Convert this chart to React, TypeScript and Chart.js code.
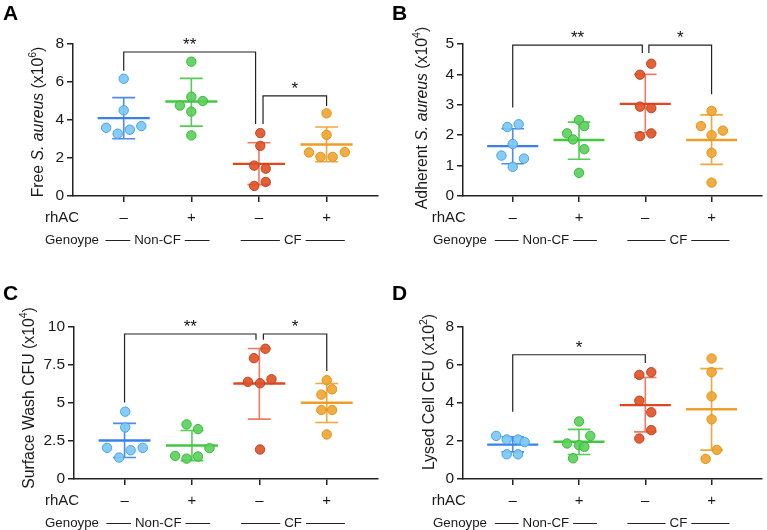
import React, { useEffect, useRef } from 'react';
import { Chart, registerables } from 'chart.js';

Chart.register(...registerables);

const FONT = '"Liberation Sans", Arial, Helvetica, sans-serif';

// ---------- shared categories ----------
const groupNames = ['Non-CF rhAC−', 'Non-CF rhAC+', 'CF rhAC−', 'CF rhAC+'];
const rhacLabels = ['–', '+', '–', '+'];
const genotypeLabels = ['Non-CF', 'CF'];

// ---------- Panel A: Free S. aureus (x10^6) ----------
const freeValues = [
  [6.17, 4.51, 3.59, 3.49, 3.68, 3.28],
  [7.07, 5.22, 4.76, 5.0, 4.44, 3.19],
  [3.31, 2.64, 1.6, 1.44, 0.74, 0.53],
  [4.35, 3.22, 2.29, 2.31, 2.06, 2.06],
];
const freeJitter = [
  [0, 0, -0.26, 0.09, 0.26, -0.09],
  [0, 0, -0.17, 0.17, 0, 0],
  [0.02, 0.02, -0.07, 0.1, 0.1, -0.07],
  [0, 0, -0.26, 0.27, -0.09, 0.09],
];
const freeMeans = [4.1, 4.97, 1.69, 2.71];
const freeUpper = [5.18, 6.19, 2.8, 3.63];
const freeLower = [3.01, 3.68, 0.6, 1.8];
const freeBrackets = [
  { from: 0, to: 1.95, y: 7.58, left: 6.59, right: 3.79, label: '**' },
  { from: 2.06, to: 3, y: 5.27, left: 3.79, right: 4.74, label: '*' },
];

// ---------- Panel B: Adherent S. aureus (x10^4) ----------
const adherentValues = [
  [2.36, 2.27, 1.71, 1.33, 1.23, 0.96],
  [2.5, 2.06, 2.3, 1.86, 1.54, 0.76],
  [4.35, 3.99, 2.94, 2.89, 1.97, 2.06],
  [2.8, 2.3, 2.15, 2.0, 1.42, 0.44],
];
const adherentJitter = [
  [0.09, -0.08, 0, -0.17, 0.17, 0],
  [0, -0.18, 0.08, -0.09, 0.08, 0],
  [0.09, -0.08, -0.08, 0.09, -0.08, 0.09],
  [0, -0.16, 0.17, 0, 0, 0],
];
const adherentMeans = [1.64, 1.84, 3.03, 1.84];
const adherentUpper = [2.21, 2.43, 4.0, 2.67];
const adherentLower = [1.06, 1.21, 2.08, 1.04];
const adherentBrackets = [
  { from: 0, to: 1.955, y: 4.96, left: 2.91, right: 4.7, label: '**' },
  { from: 2.054, to: 3, y: 4.96, left: 4.7, right: 3.35, label: '*' },
];

// ---------- Panel C: Surface Wash CFU (x10^4) ----------
const washValues = [
  [4.43, 3.39, 2.05, 1.89, 2.05, 1.41],
  [3.59, 3.28, 2.03, 1.52, 1.48, 1.34],
  [8.57, 7.95, 6.39, 6.3, 6.56, 1.94],
  [6.5, 5.55, 5.9, 4.54, 4.54, 2.93],
];
const washJitter = [
  [0.01, 0.01, -0.26, 0.09, 0.27, -0.08],
  [-0.08, 0.09, 0.26, -0.25, 0.09, -0.08],
  [0.09, -0.08, -0.17, 0.01, 0.18, 0.01],
  [0, -0.08, 0.08, -0.08, 0.08, 0],
];
const washMeans = [2.53, 2.2, 6.28, 5.02];
const washUpper = [3.66, 3.19, 8.59, 6.28];
const washLower = [1.41, 1.21, 3.94, 3.72];
const washBrackets = [
  { from: 0, to: 1.95, y: 9.54, left: 5.04, right: 9.16, label: '**' },
  { from: 2.06, to: 3, y: 9.54, left: 9.16, right: 7.11, label: '*' },
];

// ---------- Panel D: Lysed Cell CFU (x10^2) ----------
const lysedValues = [
  [2.27, 2.08, 2.08, 1.94, 1.3, 1.3],
  [3.03, 2.27, 1.87, 1.78, 1.69, 1.09],
  [5.62, 5.48, 4.12, 3.51, 2.57, 2.13],
  [6.34, 5.62, 4.35, 3.14, 1.53, 1.06],
];
const lysedJitter = [
  [-0.25, -0.09, 0.08, 0.18, -0.09, 0.08],
  [0, 0.17, -0.18, 0, 0.08, -0.09],
  [0.09, -0.09, -0.09, 0.09, 0.09, -0.09],
  [0, 0, 0, 0, 0.08, -0.09],
];
const lysedMeans = [1.81, 1.96, 3.89, 3.67];
const lysedUpper = [2.22, 2.61, 5.34, 5.81];
const lysedLower = [1.43, 1.29, 2.48, 1.52];
const lysedBrackets = [
  { from: 0, to: 2, y: 6.54, left: 3.54, right: 6.1, label: '*' },
];

// ---------- styles ----------
const pointFill = ['rgba(125,200,245,0.92)', 'rgba(92,208,92,0.92)', 'rgba(222,84,40,0.92)', 'rgba(241,166,50,0.92)'];
const pointStroke = ['#45a3e6', '#3bb93b', '#c84020', '#de9320'];
const lineColor = ['#3a80ea', '#40c840', '#e04620', '#ee9d28'];
const errColor = ['rgba(58,128,234,0.9)', 'rgba(64,200,64,0.9)', 'rgba(236,100,70,0.85)', 'rgba(238,157,40,0.9)'];

const W = 383;
const H = 265;

type Seg = { t: string; it?: boolean; sup?: boolean };

type PanelCfg = {
  letter: string;
  pos: { left: number; top: number };
  area: { left: number; right: number; top: number; bottom: number };
  letterPos: { x: number; y: number };
  title: Seg[];
  titlePos: { x: number; y: number };
  labelX: number;
  genoX: number;
  yMax: number;
  yStep: number;
  values: number[][];
  jitter: number[][];
  means: number[];
  upper: number[];
  lower: number[];
  brackets: { from: number; to: number; y: number; left: number; right: number; label: string }[];
};

const panels: PanelCfg[] = [
  {
    letter: 'A', pos: { left: 0, top: 0 },
    area: { left: 73, right: 378, top: 44, bottom: 196 },
    letterPos: { x: 3, y: 20 },
    title: [{ t: 'Free ' }, { t: 'S. aureus', it: true }, { t: ' (x10' }, { t: '6', sup: true }, { t: ')' }],
    titlePos: { x: 37.5, y: 122 }, labelX: 45, genoX: 45,
    yMax: 8, yStep: 2,
    values: freeValues, jitter: freeJitter, means: freeMeans, upper: freeUpper, lower: freeLower, brackets: freeBrackets,
  },
  {
    letter: 'B', pos: { left: 384, top: 0 },
    area: { left: 79, right: 379, top: 44, bottom: 196 },
    letterPos: { x: 8, y: 20 },
    title: [{ t: 'Adherent ' }, { t: 'S. aureus', it: true }, { t: ' (x10' }, { t: '4', sup: true }, { t: ')' }],
    titlePos: { x: 37.7, y: 118 }, labelX: 47.7, genoX: 49,
    yMax: 5, yStep: 1,
    values: adherentValues, jitter: adherentJitter, means: adherentMeans, upper: adherentUpper, lower: adherentLower, brackets: adherentBrackets,
  },
  {
    letter: 'C', pos: { left: 0, top: 265 },
    area: { left: 74, right: 378, top: 62, bottom: 214 },
    letterPos: { x: 3, y: 35 },
    title: [{ t: 'Surface Wash CFU (x10' }, { t: '4', sup: true }, { t: ')' }],
    titlePos: { x: 28.3, y: 133 }, labelX: 45, genoX: 45,
    yMax: 10, yStep: 2.5,
    values: washValues, jitter: washJitter, means: washMeans, upper: washUpper, lower: washLower, brackets: washBrackets,
  },
  {
    letter: 'D', pos: { left: 384, top: 265 },
    area: { left: 79, right: 379, top: 62, bottom: 214 },
    letterPos: { x: 8, y: 35 },
    title: [{ t: 'Lysed Cell CFU (x10' }, { t: '2', sup: true }, { t: ')' }],
    titlePos: { x: 44.3, y: 127 }, labelX: 47.7, genoX: 49,
    yMax: 8, yStep: 2,
    values: lysedValues, jitter: lysedJitter, means: lysedMeans, upper: lysedUpper, lower: lysedLower, brackets: lysedBrackets,
  },
];

const TITLE_SIZE = 15.8;
const SUP_SIZE = 10.5;

function Panel({ cfg }: { cfg: PanelCfg }) {
  const ref = useRef<HTMLCanvasElement>(null);
  useEffect(() => {
    const canvas = ref.current;
    if (!canvas) return;

    const decor = {
      id: 'decor' + cfg.letter,
      beforeDatasetsDraw(chart: any) {
        const ctx = chart.ctx as CanvasRenderingContext2D;
        const xs = chart.scales.x;
        const ys = chart.scales.y;
        ctx.save();
        ctx.lineCap = 'butt';
        for (let g = 0; g < 4; g++) {
          const cx = xs.getPixelForValue(g);
          const cap = xs.getPixelForValue(g + 0.17) - cx;
          const half = xs.getPixelForValue(g + 0.385) - cx;
          const yTop = ys.getPixelForValue(cfg.upper[g]);
          const yBot = ys.getPixelForValue(cfg.lower[g]);
          ctx.strokeStyle = errColor[g];
          ctx.lineWidth = 1.6;
          ctx.beginPath();
          ctx.moveTo(cx, yTop); ctx.lineTo(cx, yBot);
          ctx.moveTo(cx - cap, yTop); ctx.lineTo(cx + cap, yTop);
          ctx.moveTo(cx - cap, yBot); ctx.lineTo(cx + cap, yBot);
          ctx.stroke();
          const ym = ys.getPixelForValue(cfg.means[g]);
          ctx.strokeStyle = lineColor[g];
          ctx.lineWidth = 2.4;
          ctx.beginPath();
          ctx.moveTo(cx - half, ym); ctx.lineTo(cx + half, ym);
          ctx.stroke();
        }
        ctx.restore();
      },
      afterDraw(chart: any) {
        const ctx = chart.ctx as CanvasRenderingContext2D;
        const xs = chart.scales.x;
        const ys = chart.scales.y;
        const area = chart.chartArea;
        ctx.save();

        // panel letter
        ctx.fillStyle = '#000';
        ctx.font = `bold 21px ${FONT}`;
        ctx.textAlign = 'left';
        ctx.textBaseline = 'alphabetic';
        ctx.fillText(cfg.letter, cfg.letterPos.x, cfg.letterPos.y);

        // y title (rich text, rotated)
        ctx.save();
        ctx.translate(cfg.titlePos.x, cfg.titlePos.y);
        ctx.rotate(-Math.PI / 2);
        const fontOf = (s: Seg) => s.sup ? `${SUP_SIZE}px ${FONT}` : `${s.it ? 'italic ' : ''}${TITLE_SIZE}px ${FONT}`;
        let total = 0;
        for (const s of cfg.title) { ctx.font = fontOf(s); total += ctx.measureText(s.t).width; }
        let tx = -total / 2;
        ctx.fillStyle = '#1a1a1a';
        ctx.textAlign = 'left';
        ctx.textBaseline = 'alphabetic';
        for (const s of cfg.title) {
          ctx.font = fontOf(s);
          ctx.fillText(s.t, tx, s.sup ? 5.7 - 7 : 5.7);
          tx += ctx.measureText(s.t).width;
        }
        ctx.restore();

        // rhAC row
        const rowY = area.bottom + 22;
        ctx.fillStyle = '#1a1a1a';
        ctx.font = `15px ${FONT}`;
        ctx.textBaseline = 'middle';
        ctx.textAlign = 'left';
        ctx.fillText('rhAC', cfg.labelX, rowY);
        ctx.textAlign = 'center';
        rhacLabels.forEach((lab, g) => {
          ctx.fillText(lab, xs.getPixelForValue(g), rowY);
        });

        // Genotype row
        const gy = area.bottom + 44;
        ctx.font = `13.3px ${FONT}`;
        ctx.textAlign = 'left';
        ctx.fillText('Genoype', cfg.genoX, gy);
        ctx.strokeStyle = '#222';
        ctx.lineWidth = 1;
        genotypeLabels.forEach((lab, k) => {
          const a = xs.getPixelForValue(2 * k);
          const b = xs.getPixelForValue(2 * k + 1);
          const c = (a + b) / 2;
          const halfSpan = (b - a) * 0.77;
          const w = ctx.measureText(lab).width;
          ctx.textAlign = 'center';
          ctx.fillText(lab, c, gy);
          ctx.beginPath();
          ctx.moveTo(c - halfSpan, gy + 0.5); ctx.lineTo(c - w / 2 - 4, gy + 0.5);
          ctx.moveTo(c + w / 2 + 4, gy + 0.5); ctx.lineTo(c + halfSpan, gy + 0.5);
          ctx.stroke();
        });

        // significance brackets
        ctx.strokeStyle = '#222';
        ctx.lineWidth = 1.2;
        ctx.fillStyle = '#111';
        ctx.font = `17px ${FONT}`;
        ctx.textAlign = 'center';
        ctx.textBaseline = 'alphabetic';
        for (const br of cfg.brackets) {
          const x1 = xs.getPixelForValue(br.from);
          const x2 = xs.getPixelForValue(br.to);
          const y0 = ys.getPixelForValue(br.y);
          ctx.beginPath();
          ctx.moveTo(x1, ys.getPixelForValue(br.left));
          ctx.lineTo(x1, y0);
          ctx.lineTo(x2, y0);
          ctx.lineTo(x2, ys.getPixelForValue(br.right));
          ctx.stroke();
          ctx.fillText(br.label, (x1 + x2) / 2, y0 - 2);
        }
        ctx.restore();
      },
    };

    const chart = new Chart(canvas, {
      type: 'scatter',
      data: {
        datasets: cfg.values.map((vals, g) => ({
          label: groupNames[g],
          data: vals.map((v, i) => ({ x: g + cfg.jitter[g][i], y: v })),
          backgroundColor: pointFill[g],
          borderColor: pointStroke[g],
          borderWidth: 1,
          pointRadius: 4.7,
          pointHoverRadius: 4.7,
        })),
      },
      options: {
        animation: false,
        responsive: false,
        devicePixelRatio: 1,
        events: [],
        layout: { padding: { left: 0, top: cfg.area.top, right: W - cfg.area.right, bottom: 0 } },
        plugins: { legend: { display: false }, tooltip: { enabled: false } },
        scales: {
          x: {
            type: 'linear',
            min: -0.75,
            max: 3.75,
            afterBuildTicks: (s: any) => { s.ticks = [0, 1, 2, 3].map((v) => ({ value: v })); },
            afterFit: (s: any) => { s.height = H - cfg.area.bottom; },
            ticks: { display: false },
            grid: { display: true, drawOnChartArea: false, drawTicks: true, tickLength: 6, color: '#222', lineWidth: 1.5 },
            border: { display: true, color: '#222', width: 1.5 },
          },
          y: {
            type: 'linear',
            min: 0,
            max: cfg.yMax,
            afterFit: (s: any) => { s.width = cfg.area.left; },
            ticks: { stepSize: cfg.yStep, color: '#1a1a1a', font: { family: FONT, size: 15.5 }, padding: 3 },
            grid: { display: true, drawOnChartArea: false, drawTicks: true, tickLength: 6, color: '#222', lineWidth: 1.5 },
            border: { display: true, color: '#222', width: 1.5 },
          },
        },
      },
      plugins: [decor],
    } as any);
    return () => chart.destroy();
  }, [cfg]);

  return (
    <canvas
      ref={ref}
      width={W}
      height={H}
      style={{ position: 'absolute', left: cfg.pos.left, top: cfg.pos.top, width: W, height: H }}
    />
  );
}

export default function App() {
  return (
    <div style={{ position: 'fixed', left: 0, top: 0, width: 767, height: 530, background: '#fff', overflow: 'hidden' }}>
      {panels.map((p) => (
        <Panel key={p.letter} cfg={p} />
      ))}
    </div>
  );
}
